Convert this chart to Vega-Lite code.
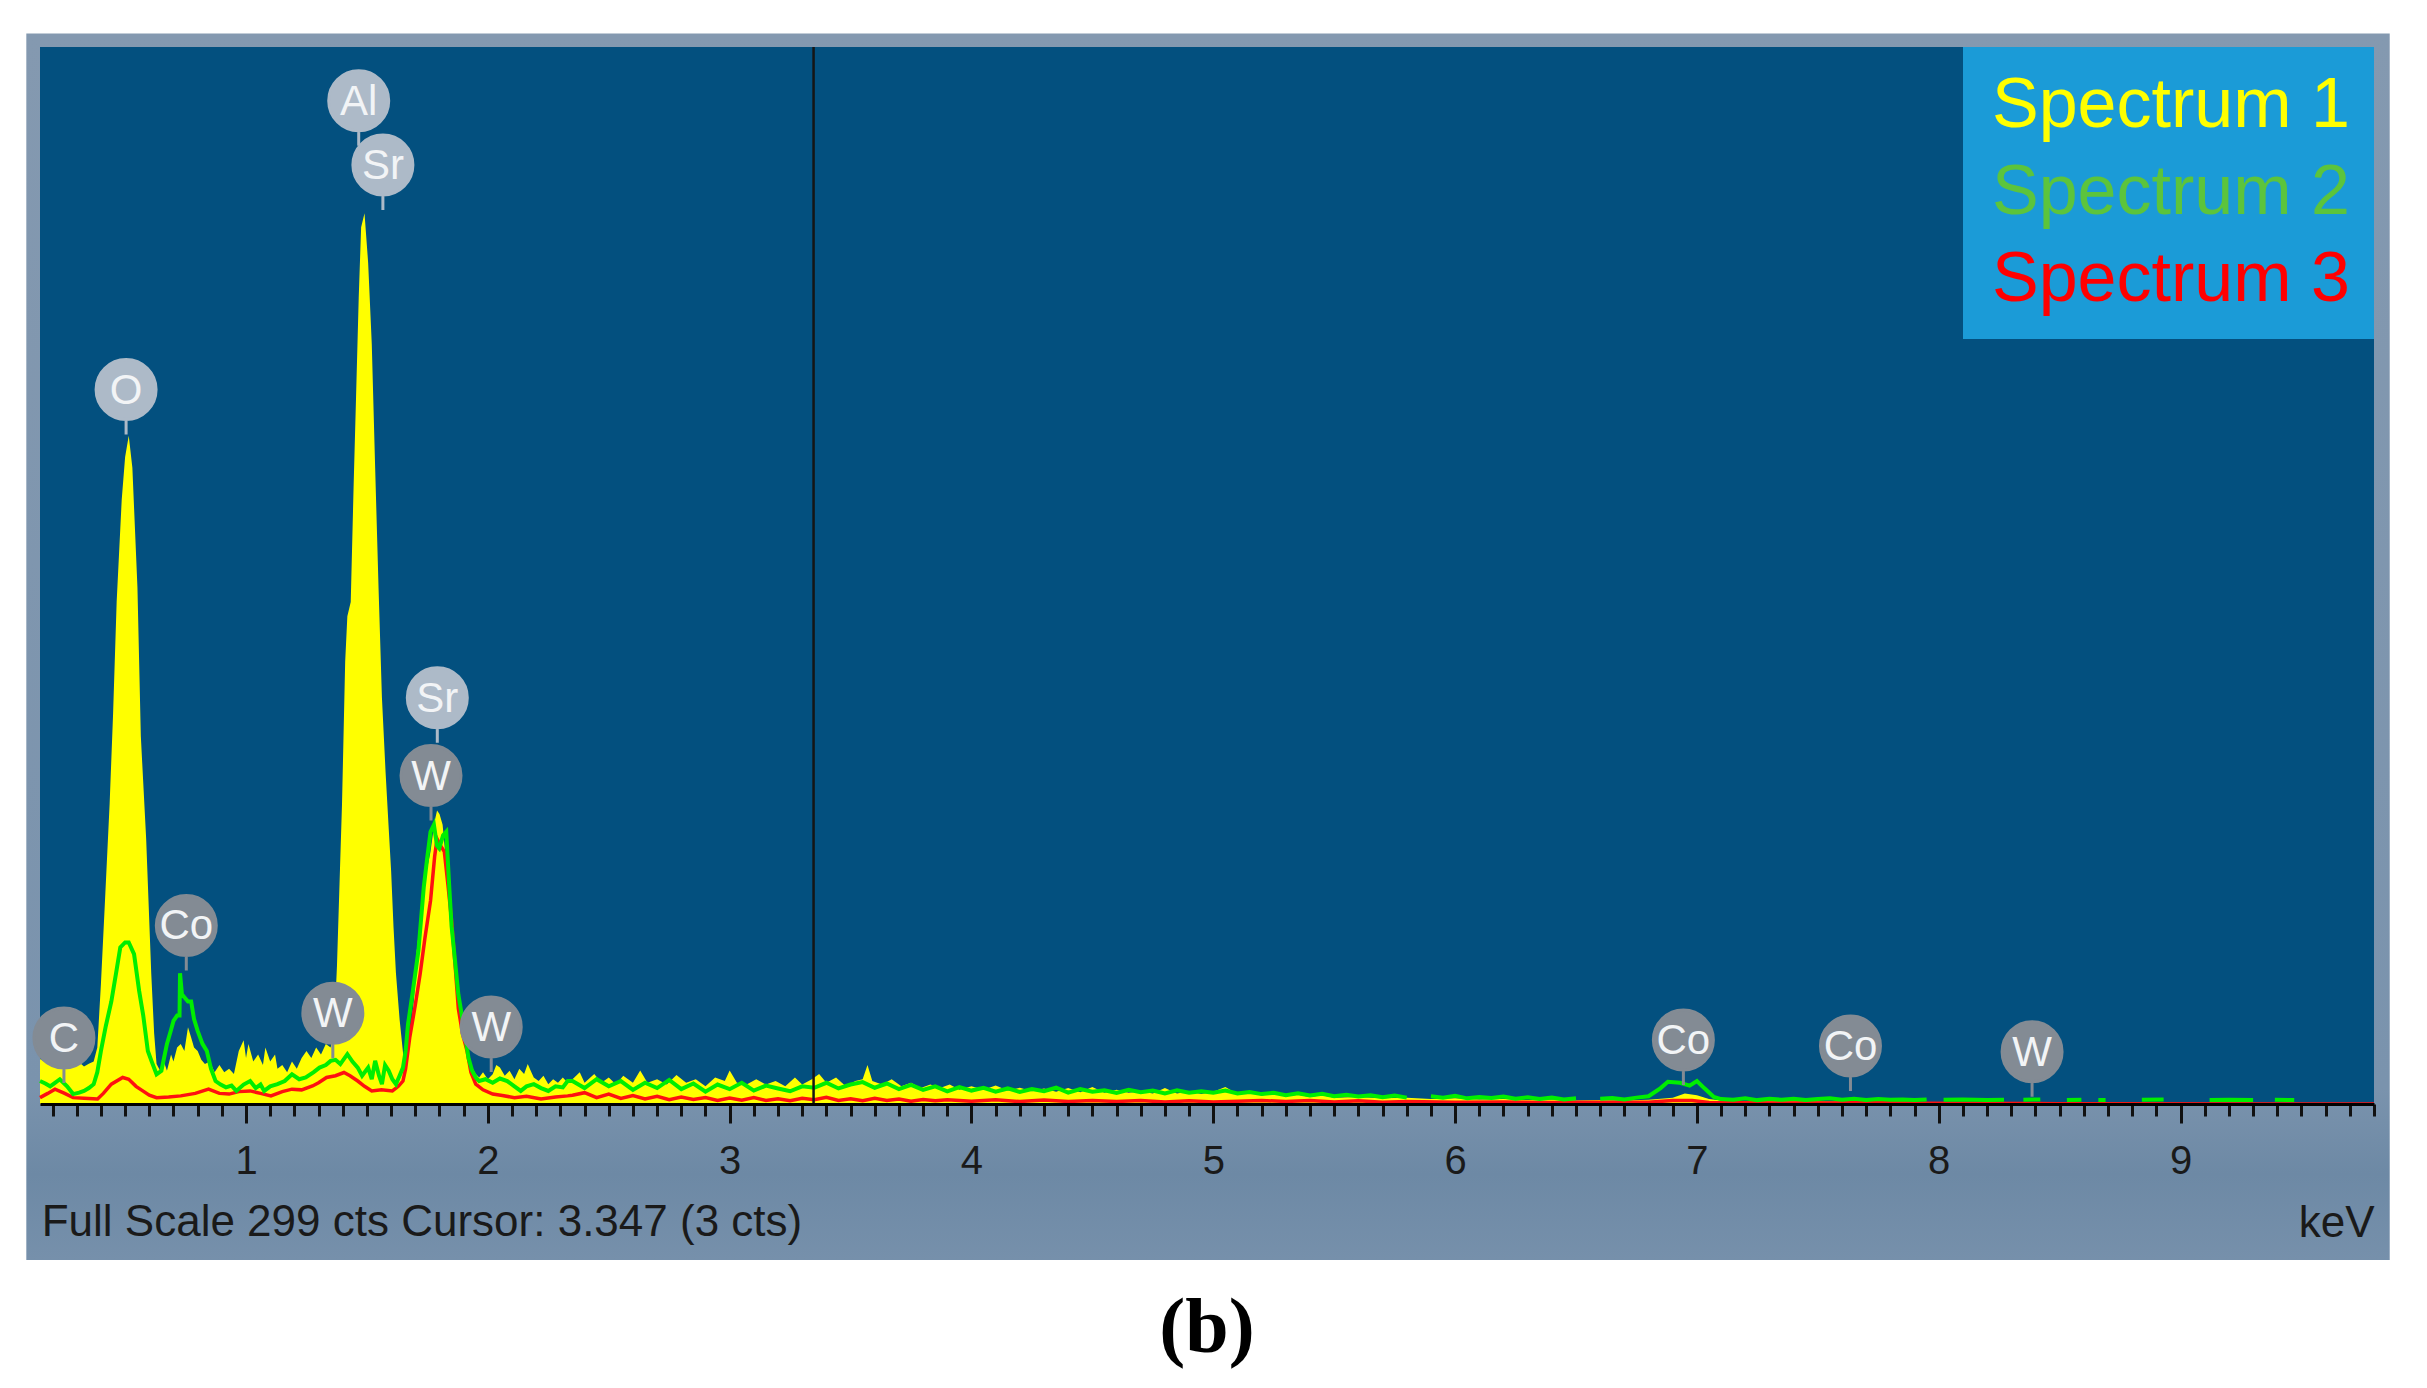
{
  "$schema": "https://vega.github.io/schema/vega-lite/v6.json",
  "width": 2334,
  "height": 1057,
  "autosize": {"type": "none"},
  "padding": {"left": 40, "top": 47, "right": 53, "bottom": 284},
  "background": "#ffffff",
  "title": {
    "text": "(b)",
    "orient": "bottom",
    "anchor": "middle",
    "font": "Liberation Serif",
    "fontSize": 78,
    "fontWeight": "bold",
    "color": "#000000",
    "offset": 30
  },
  "resolve": {"axis": {"x": "independent", "y": "independent"}},
  "datasets": {
    "spectra": [
      {"s": "Spectrum 1", "e": 0.148, "c": 12.7}, {"s": "Spectrum 1", "e": 0.17, "c": 11.8}, {"s": "Spectrum 1", "e": 0.19, "c": 13},
      {"s": "Spectrum 1", "e": 0.21, "c": 11.5}, {"s": "Spectrum 1", "e": 0.23, "c": 12.5}, {"s": "Spectrum 1", "e": 0.25, "c": 11.2},
      {"s": "Spectrum 1", "e": 0.27, "c": 12.4}, {"s": "Spectrum 1", "e": 0.29, "c": 11}, {"s": "Spectrum 1", "e": 0.31, "c": 11.8},
      {"s": "Spectrum 1", "e": 0.33, "c": 10.6}, {"s": "Spectrum 1", "e": 0.35, "c": 11.4}, {"s": "Spectrum 1", "e": 0.37, "c": 12},
      {"s": "Spectrum 1", "e": 0.385, "c": 16}, {"s": "Spectrum 1", "e": 0.4, "c": 34}, {"s": "Spectrum 1", "e": 0.415, "c": 55},
      {"s": "Spectrum 1", "e": 0.436, "c": 85}, {"s": "Spectrum 1", "e": 0.45, "c": 110}, {"s": "Spectrum 1", "e": 0.465, "c": 142},
      {"s": "Spectrum 1", "e": 0.486, "c": 171}, {"s": "Spectrum 1", "e": 0.5, "c": 183}, {"s": "Spectrum 1", "e": 0.515, "c": 189},
      {"s": "Spectrum 1", "e": 0.53, "c": 180}, {"s": "Spectrum 1", "e": 0.551, "c": 146}, {"s": "Spectrum 1", "e": 0.565, "c": 104},
      {"s": "Spectrum 1", "e": 0.587, "c": 75}, {"s": "Spectrum 1", "e": 0.608, "c": 37}, {"s": "Spectrum 1", "e": 0.62, "c": 20},
      {"s": "Spectrum 1", "e": 0.63, "c": 11.3}, {"s": "Spectrum 1", "e": 0.645, "c": 9.4}, {"s": "Spectrum 1", "e": 0.66, "c": 12},
      {"s": "Spectrum 1", "e": 0.673, "c": 9.4}, {"s": "Spectrum 1", "e": 0.69, "c": 14}, {"s": "Spectrum 1", "e": 0.7, "c": 12},
      {"s": "Spectrum 1", "e": 0.715, "c": 16}, {"s": "Spectrum 1", "e": 0.73, "c": 17}, {"s": "Spectrum 1", "e": 0.745, "c": 15},
      {"s": "Spectrum 1", "e": 0.76, "c": 21.7}, {"s": "Spectrum 1", "e": 0.773, "c": 18.8}, {"s": "Spectrum 1", "e": 0.785, "c": 16},
      {"s": "Spectrum 1", "e": 0.8, "c": 15}, {"s": "Spectrum 1", "e": 0.815, "c": 12.5}, {"s": "Spectrum 1", "e": 0.83, "c": 11.3},
      {"s": "Spectrum 1", "e": 0.85, "c": 12}, {"s": "Spectrum 1", "e": 0.87, "c": 9}, {"s": "Spectrum 1", "e": 0.89, "c": 11},
      {"s": "Spectrum 1", "e": 0.91, "c": 9}, {"s": "Spectrum 1", "e": 0.93, "c": 10}, {"s": "Spectrum 1", "e": 0.95, "c": 8.5},
      {"s": "Spectrum 1", "e": 0.97, "c": 15}, {"s": "Spectrum 1", "e": 0.99, "c": 18}, {"s": "Spectrum 1", "e": 1.0, "c": 13},
      {"s": "Spectrum 1", "e": 1.01, "c": 17}, {"s": "Spectrum 1", "e": 1.03, "c": 12}, {"s": "Spectrum 1", "e": 1.05, "c": 14},
      {"s": "Spectrum 1", "e": 1.07, "c": 11}, {"s": "Spectrum 1", "e": 1.08, "c": 16}, {"s": "Spectrum 1", "e": 1.1, "c": 12},
      {"s": "Spectrum 1", "e": 1.12, "c": 14}, {"s": "Spectrum 1", "e": 1.13, "c": 10}, {"s": "Spectrum 1", "e": 1.15, "c": 11},
      {"s": "Spectrum 1", "e": 1.17, "c": 9}, {"s": "Spectrum 1", "e": 1.19, "c": 12}, {"s": "Spectrum 1", "e": 1.21, "c": 10},
      {"s": "Spectrum 1", "e": 1.23, "c": 13}, {"s": "Spectrum 1", "e": 1.25, "c": 15}, {"s": "Spectrum 1", "e": 1.27, "c": 13},
      {"s": "Spectrum 1", "e": 1.29, "c": 16}, {"s": "Spectrum 1", "e": 1.31, "c": 14}, {"s": "Spectrum 1", "e": 1.33, "c": 17},
      {"s": "Spectrum 1", "e": 1.35, "c": 16}, {"s": "Spectrum 1", "e": 1.365, "c": 22}, {"s": "Spectrum 1", "e": 1.376, "c": 39},
      {"s": "Spectrum 1", "e": 1.397, "c": 85}, {"s": "Spectrum 1", "e": 1.41, "c": 125}, {"s": "Spectrum 1", "e": 1.419, "c": 138},
      {"s": "Spectrum 1", "e": 1.433, "c": 142}, {"s": "Spectrum 1", "e": 1.445, "c": 175}, {"s": "Spectrum 1", "e": 1.455, "c": 200},
      {"s": "Spectrum 1", "e": 1.466, "c": 228}, {"s": "Spectrum 1", "e": 1.476, "c": 248}, {"s": "Spectrum 1", "e": 1.49, "c": 252},
      {"s": "Spectrum 1", "e": 1.505, "c": 238}, {"s": "Spectrum 1", "e": 1.52, "c": 215}, {"s": "Spectrum 1", "e": 1.534, "c": 180},
      {"s": "Spectrum 1", "e": 1.548, "c": 146}, {"s": "Spectrum 1", "e": 1.562, "c": 115}, {"s": "Spectrum 1", "e": 1.577, "c": 94},
      {"s": "Spectrum 1", "e": 1.59, "c": 78}, {"s": "Spectrum 1", "e": 1.6, "c": 66}, {"s": "Spectrum 1", "e": 1.61, "c": 50},
      {"s": "Spectrum 1", "e": 1.62, "c": 37}, {"s": "Spectrum 1", "e": 1.635, "c": 24}, {"s": "Spectrum 1", "e": 1.65, "c": 14},
      {"s": "Spectrum 1", "e": 1.665, "c": 13}, {"s": "Spectrum 1", "e": 1.68, "c": 20}, {"s": "Spectrum 1", "e": 1.695, "c": 30},
      {"s": "Spectrum 1", "e": 1.706, "c": 43.4}, {"s": "Spectrum 1", "e": 1.72, "c": 52}, {"s": "Spectrum 1", "e": 1.735, "c": 62},
      {"s": "Spectrum 1", "e": 1.75, "c": 67}, {"s": "Spectrum 1", "e": 1.763, "c": 71.4}, {"s": "Spectrum 1", "e": 1.78, "c": 80},
      {"s": "Spectrum 1", "e": 1.79, "c": 83}, {"s": "Spectrum 1", "e": 1.8, "c": 82}, {"s": "Spectrum 1", "e": 1.813, "c": 79},
      {"s": "Spectrum 1", "e": 1.825, "c": 70}, {"s": "Spectrum 1", "e": 1.835, "c": 60}, {"s": "Spectrum 1", "e": 1.85, "c": 50},
      {"s": "Spectrum 1", "e": 1.864, "c": 41}, {"s": "Spectrum 1", "e": 1.875, "c": 33}, {"s": "Spectrum 1", "e": 1.885, "c": 27},
      {"s": "Spectrum 1", "e": 1.895, "c": 22}, {"s": "Spectrum 1", "e": 1.907, "c": 17.9}, {"s": "Spectrum 1", "e": 1.92, "c": 13},
      {"s": "Spectrum 1", "e": 1.935, "c": 10.3}, {"s": "Spectrum 1", "e": 1.95, "c": 8.5}, {"s": "Spectrum 1", "e": 1.964, "c": 7.5},
      {"s": "Spectrum 1", "e": 1.98, "c": 9}, {"s": "Spectrum 1", "e": 2.0, "c": 7}, {"s": "Spectrum 1", "e": 2.02, "c": 8.4},
      {"s": "Spectrum 1", "e": 2.035, "c": 11}, {"s": "Spectrum 1", "e": 2.05, "c": 10.3}, {"s": "Spectrum 1", "e": 2.07, "c": 8},
      {"s": "Spectrum 1", "e": 2.09, "c": 9.4}, {"s": "Spectrum 1", "e": 2.11, "c": 7}, {"s": "Spectrum 1", "e": 2.13, "c": 10},
      {"s": "Spectrum 1", "e": 2.15, "c": 8.5}, {"s": "Spectrum 1", "e": 2.165, "c": 11.3}, {"s": "Spectrum 1", "e": 2.18, "c": 9},
      {"s": "Spectrum 1", "e": 2.19, "c": 7.5}, {"s": "Spectrum 1", "e": 2.21, "c": 6.5}, {"s": "Spectrum 1", "e": 2.23, "c": 8},
      {"s": "Spectrum 1", "e": 2.25, "c": 5.6}, {"s": "Spectrum 1", "e": 2.27, "c": 7}, {"s": "Spectrum 1", "e": 2.29, "c": 6},
      {"s": "Spectrum 1", "e": 2.31, "c": 7.5}, {"s": "Spectrum 1", "e": 2.33, "c": 6}, {"s": "Spectrum 1", "e": 2.35, "c": 7},
      {"s": "Spectrum 1", "e": 2.38, "c": 9}, {"s": "Spectrum 1", "e": 2.4, "c": 6}, {"s": "Spectrum 1", "e": 2.44, "c": 8.5},
      {"s": "Spectrum 1", "e": 2.47, "c": 6}, {"s": "Spectrum 1", "e": 2.5, "c": 7.5}, {"s": "Spectrum 1", "e": 2.53, "c": 5.5},
      {"s": "Spectrum 1", "e": 2.56, "c": 8}, {"s": "Spectrum 1", "e": 2.6, "c": 6}, {"s": "Spectrum 1", "e": 2.63, "c": 9.5},
      {"s": "Spectrum 1", "e": 2.66, "c": 6}, {"s": "Spectrum 1", "e": 2.7, "c": 7}, {"s": "Spectrum 1", "e": 2.74, "c": 5.5},
      {"s": "Spectrum 1", "e": 2.78, "c": 8.2}, {"s": "Spectrum 1", "e": 2.82, "c": 6}, {"s": "Spectrum 1", "e": 2.86, "c": 7},
      {"s": "Spectrum 1", "e": 2.9, "c": 5}, {"s": "Spectrum 1", "e": 2.94, "c": 7.5}, {"s": "Spectrum 1", "e": 2.98, "c": 6.5},
      {"s": "Spectrum 1", "e": 3.0, "c": 9.5}, {"s": "Spectrum 1", "e": 3.03, "c": 6}, {"s": "Spectrum 1", "e": 3.07, "c": 5.5},
      {"s": "Spectrum 1", "e": 3.11, "c": 7}, {"s": "Spectrum 1", "e": 3.15, "c": 5.5}, {"s": "Spectrum 1", "e": 3.19, "c": 6.5},
      {"s": "Spectrum 1", "e": 3.23, "c": 5}, {"s": "Spectrum 1", "e": 3.27, "c": 7.5}, {"s": "Spectrum 1", "e": 3.3, "c": 5.5},
      {"s": "Spectrum 1", "e": 3.34, "c": 7}, {"s": "Spectrum 1", "e": 3.37, "c": 8.5}, {"s": "Spectrum 1", "e": 3.4, "c": 6},
      {"s": "Spectrum 1", "e": 3.44, "c": 7.5}, {"s": "Spectrum 1", "e": 3.48, "c": 5}, {"s": "Spectrum 1", "e": 3.52, "c": 6.5},
      {"s": "Spectrum 1", "e": 3.55, "c": 7}, {"s": "Spectrum 1", "e": 3.57, "c": 11}, {"s": "Spectrum 1", "e": 3.59, "c": 6.5},
      {"s": "Spectrum 1", "e": 3.63, "c": 5.5}, {"s": "Spectrum 1", "e": 3.67, "c": 7}, {"s": "Spectrum 1", "e": 3.71, "c": 5},
      {"s": "Spectrum 1", "e": 3.75, "c": 6}, {"s": "Spectrum 1", "e": 3.79, "c": 4.5}, {"s": "Spectrum 1", "e": 3.83, "c": 5.5},
      {"s": "Spectrum 1", "e": 3.87, "c": 4.5}, {"s": "Spectrum 1", "e": 3.91, "c": 5.5}, {"s": "Spectrum 1", "e": 3.95, "c": 4},
      {"s": "Spectrum 1", "e": 4.0, "c": 5}, {"s": "Spectrum 1", "e": 4.05, "c": 4}, {"s": "Spectrum 1", "e": 4.1, "c": 5.2},
      {"s": "Spectrum 1", "e": 4.15, "c": 3.8}, {"s": "Spectrum 1", "e": 4.2, "c": 4.6}, {"s": "Spectrum 1", "e": 4.25, "c": 3.6},
      {"s": "Spectrum 1", "e": 4.3, "c": 4.4}, {"s": "Spectrum 1", "e": 4.35, "c": 3.5}, {"s": "Spectrum 1", "e": 4.4, "c": 4.5},
      {"s": "Spectrum 1", "e": 4.45, "c": 3.3}, {"s": "Spectrum 1", "e": 4.5, "c": 4.8}, {"s": "Spectrum 1", "e": 4.55, "c": 3.2},
      {"s": "Spectrum 1", "e": 4.6, "c": 4}, {"s": "Spectrum 1", "e": 4.65, "c": 3.2}, {"s": "Spectrum 1", "e": 4.7, "c": 3.6},
      {"s": "Spectrum 1", "e": 4.75, "c": 3}, {"s": "Spectrum 1", "e": 4.8, "c": 4.5}, {"s": "Spectrum 1", "e": 4.85, "c": 3},
      {"s": "Spectrum 1", "e": 4.9, "c": 3.6}, {"s": "Spectrum 1", "e": 4.95, "c": 2.8}, {"s": "Spectrum 1", "e": 5.0, "c": 3.5},
      {"s": "Spectrum 1", "e": 5.05, "c": 4.8}, {"s": "Spectrum 1", "e": 5.1, "c": 2.8}, {"s": "Spectrum 1", "e": 5.15, "c": 3.2},
      {"s": "Spectrum 1", "e": 5.2, "c": 2.4}, {"s": "Spectrum 1", "e": 5.25, "c": 3}, {"s": "Spectrum 1", "e": 5.3, "c": 2.2},
      {"s": "Spectrum 1", "e": 5.35, "c": 2.6}, {"s": "Spectrum 1", "e": 5.4, "c": 2}, {"s": "Spectrum 1", "e": 5.45, "c": 2.5},
      {"s": "Spectrum 1", "e": 5.5, "c": 1.8}, {"s": "Spectrum 1", "e": 5.6, "c": 2}, {"s": "Spectrum 1", "e": 5.7, "c": 1.6},
      {"s": "Spectrum 1", "e": 5.8, "c": 1.8}, {"s": "Spectrum 1", "e": 5.9, "c": 1.4}, {"s": "Spectrum 1", "e": 6.0, "c": 1.6},
      {"s": "Spectrum 1", "e": 6.1, "c": 1.3}, {"s": "Spectrum 1", "e": 6.2, "c": 1.4}, {"s": "Spectrum 1", "e": 6.3, "c": 1.1},
      {"s": "Spectrum 1", "e": 6.4, "c": 1.3}, {"s": "Spectrum 1", "e": 6.5, "c": 1}, {"s": "Spectrum 1", "e": 6.6, "c": 1.1},
      {"s": "Spectrum 1", "e": 6.7, "c": 1}, {"s": "Spectrum 1", "e": 6.8, "c": 1.2}, {"s": "Spectrum 1", "e": 6.9, "c": 1.8},
      {"s": "Spectrum 1", "e": 6.95, "c": 3}, {"s": "Spectrum 1", "e": 7.0, "c": 2.5}, {"s": "Spectrum 1", "e": 7.05, "c": 1.4},
      {"s": "Spectrum 1", "e": 7.1, "c": 1}, {"s": "Spectrum 1", "e": 7.2, "c": 0.8}, {"s": "Spectrum 1", "e": 7.4, "c": 0.8},
      {"s": "Spectrum 1", "e": 7.6, "c": 0.7}, {"s": "Spectrum 1", "e": 7.8, "c": 0.7}, {"s": "Spectrum 1", "e": 8.0, "c": 0.5},
      {"s": "Spectrum 1", "e": 8.5, "c": 0.4}, {"s": "Spectrum 1", "e": 9.0, "c": 0.3}, {"s": "Spectrum 1", "e": 9.8, "c": 0.2},

      {"s": "Spectrum 2", "e": 0.148, "c": 6.5}, {"s": "Spectrum 2", "e": 0.17, "c": 5.8}, {"s": "Spectrum 2", "e": 0.19, "c": 5},
      {"s": "Spectrum 2", "e": 0.21, "c": 6}, {"s": "Spectrum 2", "e": 0.23, "c": 7}, {"s": "Spectrum 2", "e": 0.26, "c": 5},
      {"s": "Spectrum 2", "e": 0.285, "c": 2.8}, {"s": "Spectrum 2", "e": 0.31, "c": 3.2}, {"s": "Spectrum 2", "e": 0.33, "c": 3.7},
      {"s": "Spectrum 2", "e": 0.35, "c": 4.5}, {"s": "Spectrum 2", "e": 0.37, "c": 5.6}, {"s": "Spectrum 2", "e": 0.385, "c": 9},
      {"s": "Spectrum 2", "e": 0.4, "c": 15}, {"s": "Spectrum 2", "e": 0.42, "c": 22}, {"s": "Spectrum 2", "e": 0.443, "c": 29},
      {"s": "Spectrum 2", "e": 0.465, "c": 38}, {"s": "Spectrum 2", "e": 0.48, "c": 44.3}, {"s": "Spectrum 2", "e": 0.5, "c": 45.7},
      {"s": "Spectrum 2", "e": 0.515, "c": 45.7}, {"s": "Spectrum 2", "e": 0.537, "c": 42.4}, {"s": "Spectrum 2", "e": 0.558, "c": 32},
      {"s": "Spectrum 2", "e": 0.575, "c": 25}, {"s": "Spectrum 2", "e": 0.594, "c": 15}, {"s": "Spectrum 2", "e": 0.61, "c": 12},
      {"s": "Spectrum 2", "e": 0.63, "c": 8.4}, {"s": "Spectrum 2", "e": 0.65, "c": 9.4}, {"s": "Spectrum 2", "e": 0.673, "c": 17},
      {"s": "Spectrum 2", "e": 0.69, "c": 21}, {"s": "Spectrum 2", "e": 0.7, "c": 23.5}, {"s": "Spectrum 2", "e": 0.715, "c": 25},
      {"s": "Spectrum 2", "e": 0.725, "c": 25}, {"s": "Spectrum 2", "e": 0.727, "c": 37}, {"s": "Spectrum 2", "e": 0.735, "c": 31},
      {"s": "Spectrum 2", "e": 0.745, "c": 30.2}, {"s": "Spectrum 2", "e": 0.76, "c": 29}, {"s": "Spectrum 2", "e": 0.773, "c": 29},
      {"s": "Spectrum 2", "e": 0.785, "c": 24}, {"s": "Spectrum 2", "e": 0.8, "c": 20.7}, {"s": "Spectrum 2", "e": 0.82, "c": 17},
      {"s": "Spectrum 2", "e": 0.838, "c": 15}, {"s": "Spectrum 2", "e": 0.855, "c": 10}, {"s": "Spectrum 2", "e": 0.874, "c": 6.5},
      {"s": "Spectrum 2", "e": 0.895, "c": 5.5}, {"s": "Spectrum 2", "e": 0.917, "c": 4.7}, {"s": "Spectrum 2", "e": 0.94, "c": 5.2},
      {"s": "Spectrum 2", "e": 0.96, "c": 3.7}, {"s": "Spectrum 2", "e": 0.99, "c": 5.5}, {"s": "Spectrum 2", "e": 1.017, "c": 6.5},
      {"s": "Spectrum 2", "e": 1.04, "c": 4.5}, {"s": "Spectrum 2", "e": 1.06, "c": 5.5}, {"s": "Spectrum 2", "e": 1.075, "c": 3.7},
      {"s": "Spectrum 2", "e": 1.1, "c": 5}, {"s": "Spectrum 2", "e": 1.13, "c": 5.6}, {"s": "Spectrum 2", "e": 1.16, "c": 6.5},
      {"s": "Spectrum 2", "e": 1.19, "c": 8.4}, {"s": "Spectrum 2", "e": 1.22, "c": 7}, {"s": "Spectrum 2", "e": 1.247, "c": 7.5},
      {"s": "Spectrum 2", "e": 1.28, "c": 9}, {"s": "Spectrum 2", "e": 1.304, "c": 10.3}, {"s": "Spectrum 2", "e": 1.33, "c": 11},
      {"s": "Spectrum 2", "e": 1.35, "c": 12.2}, {"s": "Spectrum 2", "e": 1.37, "c": 12.5}, {"s": "Spectrum 2", "e": 1.39, "c": 11.3},
      {"s": "Spectrum 2", "e": 1.419, "c": 14.1}, {"s": "Spectrum 2", "e": 1.44, "c": 12}, {"s": "Spectrum 2", "e": 1.462, "c": 10.3},
      {"s": "Spectrum 2", "e": 1.48, "c": 8}, {"s": "Spectrum 2", "e": 1.505, "c": 10.3}, {"s": "Spectrum 2", "e": 1.52, "c": 7},
      {"s": "Spectrum 2", "e": 1.534, "c": 12.2}, {"s": "Spectrum 2", "e": 1.55, "c": 8}, {"s": "Spectrum 2", "e": 1.562, "c": 5.6},
      {"s": "Spectrum 2", "e": 1.575, "c": 11}, {"s": "Spectrum 2", "e": 1.59, "c": 9.4}, {"s": "Spectrum 2", "e": 1.605, "c": 7},
      {"s": "Spectrum 2", "e": 1.62, "c": 5.6}, {"s": "Spectrum 2", "e": 1.635, "c": 8}, {"s": "Spectrum 2", "e": 1.649, "c": 10.3},
      {"s": "Spectrum 2", "e": 1.66, "c": 15}, {"s": "Spectrum 2", "e": 1.67, "c": 22.6}, {"s": "Spectrum 2", "e": 1.69, "c": 32},
      {"s": "Spectrum 2", "e": 1.713, "c": 43.4}, {"s": "Spectrum 2", "e": 1.735, "c": 61.3}, {"s": "Spectrum 2", "e": 1.75, "c": 70},
      {"s": "Spectrum 2", "e": 1.763, "c": 77}, {"s": "Spectrum 2", "e": 1.777, "c": 79}, {"s": "Spectrum 2", "e": 1.79, "c": 73},
      {"s": "Spectrum 2", "e": 1.799, "c": 72.3}, {"s": "Spectrum 2", "e": 1.815, "c": 76}, {"s": "Spectrum 2", "e": 1.828, "c": 77},
      {"s": "Spectrum 2", "e": 1.84, "c": 62}, {"s": "Spectrum 2", "e": 1.85, "c": 50.3}, {"s": "Spectrum 2", "e": 1.865, "c": 40},
      {"s": "Spectrum 2", "e": 1.878, "c": 31}, {"s": "Spectrum 2", "e": 1.895, "c": 24}, {"s": "Spectrum 2", "e": 1.907, "c": 18.8},
      {"s": "Spectrum 2", "e": 1.92, "c": 13}, {"s": "Spectrum 2", "e": 1.935, "c": 9.4}, {"s": "Spectrum 2", "e": 1.95, "c": 7.5},
      {"s": "Spectrum 2", "e": 1.964, "c": 6.5}, {"s": "Spectrum 2", "e": 1.99, "c": 7}, {"s": "Spectrum 2", "e": 2.02, "c": 6},
      {"s": "Spectrum 2", "e": 2.05, "c": 7.2}, {"s": "Spectrum 2", "e": 2.08, "c": 6.5}, {"s": "Spectrum 2", "e": 2.11, "c": 5},
      {"s": "Spectrum 2", "e": 2.136, "c": 3.7}, {"s": "Spectrum 2", "e": 2.16, "c": 5}, {"s": "Spectrum 2", "e": 2.19, "c": 5.6},
      {"s": "Spectrum 2", "e": 2.22, "c": 4.5}, {"s": "Spectrum 2", "e": 2.25, "c": 3.7}, {"s": "Spectrum 2", "e": 2.28, "c": 5},
      {"s": "Spectrum 2", "e": 2.31, "c": 4.7}, {"s": "Spectrum 2", "e": 2.33, "c": 6.5}, {"s": "Spectrum 2", "e": 2.35, "c": 6.5},
      {"s": "Spectrum 2", "e": 2.4, "c": 4.5}, {"s": "Spectrum 2", "e": 2.45, "c": 7}, {"s": "Spectrum 2", "e": 2.5, "c": 5},
      {"s": "Spectrum 2", "e": 2.55, "c": 6.5}, {"s": "Spectrum 2", "e": 2.6, "c": 4}, {"s": "Spectrum 2", "e": 2.65, "c": 6},
      {"s": "Spectrum 2", "e": 2.7, "c": 4.5}, {"s": "Spectrum 2", "e": 2.75, "c": 6.8}, {"s": "Spectrum 2", "e": 2.8, "c": 4.2},
      {"s": "Spectrum 2", "e": 2.85, "c": 5.8}, {"s": "Spectrum 2", "e": 2.9, "c": 3.5}, {"s": "Spectrum 2", "e": 2.95, "c": 5.5},
      {"s": "Spectrum 2", "e": 3.0, "c": 4.2}, {"s": "Spectrum 2", "e": 3.05, "c": 6}, {"s": "Spectrum 2", "e": 3.1, "c": 3.8},
      {"s": "Spectrum 2", "e": 3.15, "c": 5.2}, {"s": "Spectrum 2", "e": 3.2, "c": 4.4}, {"s": "Spectrum 2", "e": 3.25, "c": 3.6},
      {"s": "Spectrum 2", "e": 3.3, "c": 5}, {"s": "Spectrum 2", "e": 3.35, "c": 4.6}, {"s": "Spectrum 2", "e": 3.4, "c": 6},
      {"s": "Spectrum 2", "e": 3.45, "c": 4.4}, {"s": "Spectrum 2", "e": 3.5, "c": 5.5}, {"s": "Spectrum 2", "e": 3.55, "c": 6.2},
      {"s": "Spectrum 2", "e": 3.6, "c": 4.6}, {"s": "Spectrum 2", "e": 3.65, "c": 5.8}, {"s": "Spectrum 2", "e": 3.7, "c": 4.2},
      {"s": "Spectrum 2", "e": 3.75, "c": 5.4}, {"s": "Spectrum 2", "e": 3.8, "c": 4}, {"s": "Spectrum 2", "e": 3.85, "c": 5},
      {"s": "Spectrum 2", "e": 3.9, "c": 3.6}, {"s": "Spectrum 2", "e": 3.95, "c": 4.8}, {"s": "Spectrum 2", "e": 4.0, "c": 3.8},
      {"s": "Spectrum 2", "e": 4.05, "c": 4.6}, {"s": "Spectrum 2", "e": 4.1, "c": 3.5}, {"s": "Spectrum 2", "e": 4.15, "c": 4.4},
      {"s": "Spectrum 2", "e": 4.2, "c": 3.4}, {"s": "Spectrum 2", "e": 4.25, "c": 4.2}, {"s": "Spectrum 2", "e": 4.3, "c": 3.6},
      {"s": "Spectrum 2", "e": 4.35, "c": 4.6}, {"s": "Spectrum 2", "e": 4.4, "c": 3.2}, {"s": "Spectrum 2", "e": 4.45, "c": 4.2},
      {"s": "Spectrum 2", "e": 4.5, "c": 3.5}, {"s": "Spectrum 2", "e": 4.55, "c": 3.9}, {"s": "Spectrum 2", "e": 4.6, "c": 3.1},
      {"s": "Spectrum 2", "e": 4.65, "c": 4}, {"s": "Spectrum 2", "e": 4.7, "c": 3.3}, {"s": "Spectrum 2", "e": 4.75, "c": 3.8},
      {"s": "Spectrum 2", "e": 4.8, "c": 3}, {"s": "Spectrum 2", "e": 4.85, "c": 3.9}, {"s": "Spectrum 2", "e": 4.9, "c": 3.2},
      {"s": "Spectrum 2", "e": 4.95, "c": 3.6}, {"s": "Spectrum 2", "e": 5.0, "c": 3.2}, {"s": "Spectrum 2", "e": 5.05, "c": 3.8},
      {"s": "Spectrum 2", "e": 5.1, "c": 3}, {"s": "Spectrum 2", "e": 5.15, "c": 3.4}, {"s": "Spectrum 2", "e": 5.2, "c": 2.8},
      {"s": "Spectrum 2", "e": 5.25, "c": 3.2}, {"s": "Spectrum 2", "e": 5.3, "c": 2.5}, {"s": "Spectrum 2", "e": 5.35, "c": 3},
      {"s": "Spectrum 2", "e": 5.4, "c": 2.4}, {"s": "Spectrum 2", "e": 5.45, "c": 2.9}, {"s": "Spectrum 2", "e": 5.5, "c": 2.2},
      {"s": "Spectrum 2", "e": 5.55, "c": 2.6}, {"s": "Spectrum 2", "e": 5.6, "c": 2.1}, {"s": "Spectrum 2", "e": 5.65, "c": 2.5},
      {"s": "Spectrum 2", "e": 5.7, "c": 1.9}, {"s": "Spectrum 2", "e": 5.75, "c": 2.4}, {"s": "Spectrum 2", "e": 5.8, "c": 1.8},
      {"s": "Spectrum 2", "e": 5.85, "c": null}, {"s": "Spectrum 2", "e": 5.9, "c": 2.2}, {"s": "Spectrum 2", "e": 5.95, "c": 1.8},
      {"s": "Spectrum 2", "e": 6.0, "c": 2.3}, {"s": "Spectrum 2", "e": 6.05, "c": 1.6}, {"s": "Spectrum 2", "e": 6.1, "c": 2},
      {"s": "Spectrum 2", "e": 6.15, "c": 1.7}, {"s": "Spectrum 2", "e": 6.2, "c": 2.1}, {"s": "Spectrum 2", "e": 6.25, "c": 1.5},
      {"s": "Spectrum 2", "e": 6.3, "c": 1.9}, {"s": "Spectrum 2", "e": 6.35, "c": 1.4}, {"s": "Spectrum 2", "e": 6.4, "c": 1.8},
      {"s": "Spectrum 2", "e": 6.45, "c": 1.3}, {"s": "Spectrum 2", "e": 6.5, "c": 1.6}, {"s": "Spectrum 2", "e": 6.55, "c": null},
      {"s": "Spectrum 2", "e": 6.6, "c": 1.5}, {"s": "Spectrum 2", "e": 6.65, "c": 1.7}, {"s": "Spectrum 2", "e": 6.7, "c": 1.3},
      {"s": "Spectrum 2", "e": 6.75, "c": 1.8}, {"s": "Spectrum 2", "e": 6.8, "c": 2.2}, {"s": "Spectrum 2", "e": 6.85, "c": 4.5},
      {"s": "Spectrum 2", "e": 6.88, "c": 6.3}, {"s": "Spectrum 2", "e": 6.93, "c": 6}, {"s": "Spectrum 2", "e": 6.97, "c": 5.2},
      {"s": "Spectrum 2", "e": 7.0, "c": 6.5}, {"s": "Spectrum 2", "e": 7.03, "c": 4.5}, {"s": "Spectrum 2", "e": 7.07, "c": 2},
      {"s": "Spectrum 2", "e": 7.1, "c": 1.4}, {"s": "Spectrum 2", "e": 7.15, "c": 1.2}, {"s": "Spectrum 2", "e": 7.2, "c": 1.6},
      {"s": "Spectrum 2", "e": 7.25, "c": 1.1}, {"s": "Spectrum 2", "e": 7.3, "c": 1.5}, {"s": "Spectrum 2", "e": 7.35, "c": 1.2},
      {"s": "Spectrum 2", "e": 7.4, "c": 1.5}, {"s": "Spectrum 2", "e": 7.45, "c": 1.1}, {"s": "Spectrum 2", "e": 7.5, "c": 1.4},
      {"s": "Spectrum 2", "e": 7.55, "c": 1.6}, {"s": "Spectrum 2", "e": 7.6, "c": 1.2}, {"s": "Spectrum 2", "e": 7.65, "c": 1.5},
      {"s": "Spectrum 2", "e": 7.7, "c": 1.1}, {"s": "Spectrum 2", "e": 7.75, "c": 1.4}, {"s": "Spectrum 2", "e": 7.8, "c": 1.2},
      {"s": "Spectrum 2", "e": 7.85, "c": 1.3}, {"s": "Spectrum 2", "e": 7.9, "c": 1.1}, {"s": "Spectrum 2", "e": 7.95, "c": 1.3},
      {"s": "Spectrum 2", "e": 7.98, "c": null}, {"s": "Spectrum 2", "e": 8.02, "c": 1.2}, {"s": "Spectrum 2", "e": 8.1, "c": 1.3},
      {"s": "Spectrum 2", "e": 8.2, "c": 1.1}, {"s": "Spectrum 2", "e": 8.27, "c": 1.2}, {"s": "Spectrum 2", "e": 8.3, "c": null},
      {"s": "Spectrum 2", "e": 8.35, "c": 1.2}, {"s": "Spectrum 2", "e": 8.42, "c": 1.3}, {"s": "Spectrum 2", "e": 8.45, "c": null},
      {"s": "Spectrum 2", "e": 8.53, "c": 1.1}, {"s": "Spectrum 2", "e": 8.59, "c": 1.2}, {"s": "Spectrum 2", "e": 8.62, "c": null},
      {"s": "Spectrum 2", "e": 8.66, "c": 1.1}, {"s": "Spectrum 2", "e": 8.69, "c": 1.1}, {"s": "Spectrum 2", "e": 8.72, "c": null},
      {"s": "Spectrum 2", "e": 8.84, "c": 1.2}, {"s": "Spectrum 2", "e": 8.93, "c": 1.3}, {"s": "Spectrum 2", "e": 8.96, "c": null},
      {"s": "Spectrum 2", "e": 9.12, "c": 1.1}, {"s": "Spectrum 2", "e": 9.2, "c": 1.2}, {"s": "Spectrum 2", "e": 9.3, "c": 1.1},
      {"s": "Spectrum 2", "e": 9.33, "c": null}, {"s": "Spectrum 2", "e": 9.39, "c": 1.2}, {"s": "Spectrum 2", "e": 9.47, "c": 1.1},

      {"s": "Spectrum 3", "e": 0.148, "c": 1.8}, {"s": "Spectrum 3", "e": 0.18, "c": 3}, {"s": "Spectrum 3", "e": 0.21, "c": 4.2},
      {"s": "Spectrum 3", "e": 0.25, "c": 3}, {"s": "Spectrum 3", "e": 0.285, "c": 1.8}, {"s": "Spectrum 3", "e": 0.33, "c": 1.6},
      {"s": "Spectrum 3", "e": 0.386, "c": 1.4}, {"s": "Spectrum 3", "e": 0.41, "c": 3}, {"s": "Spectrum 3", "e": 0.443, "c": 5.6},
      {"s": "Spectrum 3", "e": 0.49, "c": 7.5}, {"s": "Spectrum 3", "e": 0.515, "c": 7}, {"s": "Spectrum 3", "e": 0.545, "c": 5},
      {"s": "Spectrum 3", "e": 0.573, "c": 3.7}, {"s": "Spectrum 3", "e": 0.6, "c": 2.5}, {"s": "Spectrum 3", "e": 0.63, "c": 1.8},
      {"s": "Spectrum 3", "e": 0.68, "c": 2}, {"s": "Spectrum 3", "e": 0.73, "c": 2.3}, {"s": "Spectrum 3", "e": 0.79, "c": 3},
      {"s": "Spectrum 3", "e": 0.845, "c": 4.2}, {"s": "Spectrum 3", "e": 0.89, "c": 3}, {"s": "Spectrum 3", "e": 0.93, "c": 2.8},
      {"s": "Spectrum 3", "e": 0.97, "c": 3.5}, {"s": "Spectrum 3", "e": 1.017, "c": 3.7}, {"s": "Spectrum 3", "e": 1.06, "c": 3},
      {"s": "Spectrum 3", "e": 1.103, "c": 2.3}, {"s": "Spectrum 3", "e": 1.15, "c": 3.5}, {"s": "Spectrum 3", "e": 1.19, "c": 4.2},
      {"s": "Spectrum 3", "e": 1.23, "c": 4}, {"s": "Spectrum 3", "e": 1.275, "c": 5.1}, {"s": "Spectrum 3", "e": 1.3, "c": 6},
      {"s": "Spectrum 3", "e": 1.333, "c": 7.5}, {"s": "Spectrum 3", "e": 1.37, "c": 8}, {"s": "Spectrum 3", "e": 1.405, "c": 8.9},
      {"s": "Spectrum 3", "e": 1.43, "c": 8}, {"s": "Spectrum 3", "e": 1.462, "c": 6.5}, {"s": "Spectrum 3", "e": 1.49, "c": 5},
      {"s": "Spectrum 3", "e": 1.52, "c": 3.7}, {"s": "Spectrum 3", "e": 1.56, "c": 4}, {"s": "Spectrum 3", "e": 1.605, "c": 3.7},
      {"s": "Spectrum 3", "e": 1.63, "c": 5}, {"s": "Spectrum 3", "e": 1.649, "c": 6.5}, {"s": "Spectrum 3", "e": 1.66, "c": 10},
      {"s": "Spectrum 3", "e": 1.677, "c": 18.8}, {"s": "Spectrum 3", "e": 1.7, "c": 28}, {"s": "Spectrum 3", "e": 1.72, "c": 36.8},
      {"s": "Spectrum 3", "e": 1.74, "c": 47}, {"s": "Spectrum 3", "e": 1.763, "c": 57.5}, {"s": "Spectrum 3", "e": 1.78, "c": 70},
      {"s": "Spectrum 3", "e": 1.79, "c": 75}, {"s": "Spectrum 3", "e": 1.805, "c": 73}, {"s": "Spectrum 3", "e": 1.82, "c": 71.4},
      {"s": "Spectrum 3", "e": 1.835, "c": 62}, {"s": "Spectrum 3", "e": 1.85, "c": 52}, {"s": "Spectrum 3", "e": 1.865, "c": 39},
      {"s": "Spectrum 3", "e": 1.878, "c": 27}, {"s": "Spectrum 3", "e": 1.895, "c": 20}, {"s": "Spectrum 3", "e": 1.914, "c": 15},
      {"s": "Spectrum 3", "e": 1.93, "c": 9}, {"s": "Spectrum 3", "e": 1.95, "c": 5.6}, {"s": "Spectrum 3", "e": 1.98, "c": 4},
      {"s": "Spectrum 3", "e": 2.02, "c": 2.8}, {"s": "Spectrum 3", "e": 2.06, "c": 2.4}, {"s": "Spectrum 3", "e": 2.11, "c": 1.8},
      {"s": "Spectrum 3", "e": 2.16, "c": 2.2}, {"s": "Spectrum 3", "e": 2.22, "c": 1.4}, {"s": "Spectrum 3", "e": 2.28, "c": 2},
      {"s": "Spectrum 3", "e": 2.33, "c": 2.3}, {"s": "Spectrum 3", "e": 2.35, "c": 2.5}, {"s": "Spectrum 3", "e": 2.4, "c": 3.2},
      {"s": "Spectrum 3", "e": 2.45, "c": 1.8}, {"s": "Spectrum 3", "e": 2.5, "c": 2.8}, {"s": "Spectrum 3", "e": 2.55, "c": 1.6},
      {"s": "Spectrum 3", "e": 2.6, "c": 2.4}, {"s": "Spectrum 3", "e": 2.65, "c": 1.4}, {"s": "Spectrum 3", "e": 2.7, "c": 2.2},
      {"s": "Spectrum 3", "e": 2.75, "c": 1.2}, {"s": "Spectrum 3", "e": 2.8, "c": 2}, {"s": "Spectrum 3", "e": 2.85, "c": 1.3},
      {"s": "Spectrum 3", "e": 2.9, "c": 1.8}, {"s": "Spectrum 3", "e": 2.95, "c": 1}, {"s": "Spectrum 3", "e": 3.0, "c": 1.7},
      {"s": "Spectrum 3", "e": 3.05, "c": 1.1}, {"s": "Spectrum 3", "e": 3.1, "c": 1.8}, {"s": "Spectrum 3", "e": 3.15, "c": 1},
      {"s": "Spectrum 3", "e": 3.2, "c": 1.5}, {"s": "Spectrum 3", "e": 3.25, "c": 0.9}, {"s": "Spectrum 3", "e": 3.3, "c": 1.6},
      {"s": "Spectrum 3", "e": 3.35, "c": 1.2}, {"s": "Spectrum 3", "e": 3.4, "c": 1.9}, {"s": "Spectrum 3", "e": 3.45, "c": 1},
      {"s": "Spectrum 3", "e": 3.5, "c": 1.5}, {"s": "Spectrum 3", "e": 3.55, "c": 0.9}, {"s": "Spectrum 3", "e": 3.6, "c": 1.6},
      {"s": "Spectrum 3", "e": 3.65, "c": 1}, {"s": "Spectrum 3", "e": 3.7, "c": 1.4}, {"s": "Spectrum 3", "e": 3.75, "c": 0.8},
      {"s": "Spectrum 3", "e": 3.8, "c": 1.3}, {"s": "Spectrum 3", "e": 3.85, "c": 0.9}, {"s": "Spectrum 3", "e": 3.9, "c": 1.2},
      {"s": "Spectrum 3", "e": 4.0, "c": 0.8}, {"s": "Spectrum 3", "e": 4.1, "c": 1.2}, {"s": "Spectrum 3", "e": 4.2, "c": 0.7},
      {"s": "Spectrum 3", "e": 4.3, "c": 1.1}, {"s": "Spectrum 3", "e": 4.4, "c": 0.7}, {"s": "Spectrum 3", "e": 4.5, "c": 1},
      {"s": "Spectrum 3", "e": 4.6, "c": 0.7}, {"s": "Spectrum 3", "e": 4.7, "c": 1}, {"s": "Spectrum 3", "e": 4.8, "c": 0.6},
      {"s": "Spectrum 3", "e": 4.9, "c": 0.9}, {"s": "Spectrum 3", "e": 5.0, "c": 0.6}, {"s": "Spectrum 3", "e": 5.1, "c": 0.8},
      {"s": "Spectrum 3", "e": 5.2, "c": 1}, {"s": "Spectrum 3", "e": 5.3, "c": 0.7}, {"s": "Spectrum 3", "e": 5.4, "c": 1},
      {"s": "Spectrum 3", "e": 5.5, "c": 0.6}, {"s": "Spectrum 3", "e": 5.6, "c": 0.9}, {"s": "Spectrum 3", "e": 5.7, "c": 0.5},
      {"s": "Spectrum 3", "e": 5.8, "c": 0.7}, {"s": "Spectrum 3", "e": 6.0, "c": 0.5}, {"s": "Spectrum 3", "e": 6.2, "c": 0.6},
      {"s": "Spectrum 3", "e": 6.4, "c": 0.4}, {"s": "Spectrum 3", "e": 6.6, "c": 0.5}, {"s": "Spectrum 3", "e": 6.8, "c": 0.5},
      {"s": "Spectrum 3", "e": 6.9, "c": 1}, {"s": "Spectrum 3", "e": 6.98, "c": 1}, {"s": "Spectrum 3", "e": 7.05, "c": 0.4},
      {"s": "Spectrum 3", "e": 7.3, "c": 0.3}, {"s": "Spectrum 3", "e": 7.6, "c": 0.3}, {"s": "Spectrum 3", "e": 7.7, "c": 0.5},
      {"s": "Spectrum 3", "e": 7.9, "c": 0.2}, {"s": "Spectrum 3", "e": 8.5, "c": 0.1}, {"s": "Spectrum 3", "e": 9.8, "c": 0}
    ],
    "markers": [
      {"el": "C", "e": 0.247, "c": 18.7},
      {"el": "O", "e": 0.504, "c": 202.1},
      {"el": "Co", "e": 0.753, "c": 50.5},
      {"el": "W", "e": 1.359, "c": 25.7},
      {"el": "Al", "e": 1.466, "c": 283.8},
      {"el": "Sr", "e": 1.566, "c": 265.6},
      {"el": "Sr", "e": 1.791, "c": 114.9},
      {"el": "W", "e": 1.765, "c": 92.9},
      {"el": "W", "e": 2.014, "c": 21.8},
      {"el": "Co", "e": 6.944, "c": 18.1},
      {"el": "Co", "e": 7.635, "c": 16.4},
      {"el": "W", "e": 8.386, "c": 14.8}
    ]
  },
  "layer": [
    {
      "data": {"values": [{}]},
      "mark": {"type": "rect", "color": {
        "gradient": "linear", "x1": 0, "y1": 0, "x2": 0, "y2": 1,
        "stops": [
          {"offset": 0, "color": "#8499b0"},
          {"offset": 0.86, "color": "#7a93ad"},
          {"offset": 0.93, "color": "#6d89a5"},
          {"offset": 1, "color": "#7690ab"}
        ]
      }},
      "encoding": {
        "x": {"datum": 0.0914, "type": "quantitative", "axis": null},
        "x2": {"datum": 9.865},
        "y": {"datum": 302.8, "type": "quantitative", "axis": null},
        "y2": {"datum": -44.1}
      }
    },
    {
      "data": {"values": [{}]},
      "mark": {"type": "rect", "color": "#03507f"},
      "encoding": {
        "x": {"datum": 0.148, "type": "quantitative", "axis": null},
        "x2": {"datum": 9.8},
        "y": {"datum": 0, "type": "quantitative", "axis": null},
        "y2": {"datum": 299}
      }
    },
    {
      "data": {"name": "spectra"},
      "transform": [{"filter": "datum.s === 'Spectrum 1'"}],
      "mark": {"type": "area", "interpolate": "linear"},
      "encoding": {
        "x": {
          "field": "e",
          "type": "quantitative",
          "scale": {"domain": [0.148, 9.8], "nice": false, "zero": false},
          "axis": {
            "orient": "bottom",
            "zindex": 1,
            "grid": false,
            "values": [0.2, 0.3, 0.4, 0.5, 0.6, 0.7, 0.8, 0.9, 1, 1.1, 1.2, 1.3, 1.4, 1.5, 1.6, 1.7, 1.8, 1.9, 2, 2.1, 2.2, 2.3, 2.4, 2.5, 2.6, 2.7, 2.8, 2.9, 3, 3.1, 3.2, 3.3, 3.4, 3.5, 3.6, 3.7, 3.8, 3.9, 4, 4.1, 4.2, 4.3, 4.4, 4.5, 4.6, 4.7, 4.8, 4.9, 5, 5.1, 5.2, 5.3, 5.4, 5.5, 5.6, 5.7, 5.8, 5.9, 6, 6.1, 6.2, 6.3, 6.4, 6.5, 6.6, 6.7, 6.8, 6.9, 7, 7.1, 7.2, 7.3, 7.4, 7.5, 7.6, 7.7, 7.8, 7.9, 8, 8.1, 8.2, 8.3, 8.4, 8.5, 8.6, 8.7, 8.8, 8.9, 9, 9.1, 9.2, 9.3, 9.4, 9.5, 9.6, 9.7, 9.8],
            "labelExpr": "datum.value === round(datum.value) ? format(datum.value, 'd') : ''",
            "labelOverlap": false,
            "labelFlush": false,
            "labelBound": false,
            "labelFont": "Liberation Sans",
            "labelFontSize": 40,
            "labelColor": "#1a1a1a",
            "labelPadding": 18,
            "domainColor": "#000000",
            "domainWidth": 3,
            "tickColor": "#111111",
            "tickWidth": 3,
            "tickSize": {"condition": {"test": "datum.value === round(datum.value)", "value": 19}, "value": 12},
            "title": "keV",
            "titleFont": "Liberation Sans",
            "titleFontSize": 44,
            "titleFontWeight": "normal",
            "titleColor": "#1a1a1a",
            "titleAnchor": "end",
            "titleAlign": "right",
            "titlePadding": 20
          }
        },
        "y": {
          "field": "c",
          "type": "quantitative",
          "stack": null,
          "scale": {"domain": [0, 299], "nice": false, "zero": true},
          "axis": null
        },
        "color": {
          "field": "s",
          "type": "nominal",
          "scale": {
            "domain": ["Spectrum 1", "Spectrum 2", "Spectrum 3"],
            "range": ["#ffff00", "#00ee00", "#ff1010"]
          },
          "legend": {
            "orient": "top-right",
            "offset": 0,
            "title": null,
            "fillColor": "#1b9bd7",
            "padding": 24,
            "rowPadding": 17,
            "symbolType": "circle",
            "symbolSize": 1,
            "symbolOpacity": 0,
            "symbolStrokeWidth": 0,
            "labelOffset": -65,
            "labelFont": "Liberation Sans",
            "labelFontSize": 70,
            "labelLimit": 0,
            "labelExpr": "datum.label + '\u00a0\u00a0'",
            "labelColor": {"expr": "datum.value === 'Spectrum 1' ? '#ffff00' : datum.value === 'Spectrum 2' ? '#5cc43c' : '#ff0000'"}
          }
        }
      }
    },
    {
      "data": {"name": "spectra"},
      "transform": [{"filter": "datum.s === 'Spectrum 3'"}],
      "mark": {"type": "line", "strokeWidth": 3.5, "interpolate": "linear"},
      "encoding": {
        "x": {"field": "e", "type": "quantitative", "axis": null},
        "y": {"field": "c", "type": "quantitative", "axis": null},
        "color": {"field": "s", "type": "nominal", "legend": null}
      }
    },
    {
      "data": {"name": "spectra"},
      "transform": [{"filter": "datum.s === 'Spectrum 2'"}],
      "mark": {"type": "line", "strokeWidth": 4, "interpolate": "linear"},
      "encoding": {
        "x": {"field": "e", "type": "quantitative", "axis": null},
        "y": {"field": "c", "type": "quantitative", "axis": null},
        "color": {"field": "s", "type": "nominal", "legend": null}
      }
    },
    {
      "data": {"values": [{}]},
      "mark": {"type": "rule", "color": "#151515", "strokeWidth": 2.5},
      "encoding": {
        "x": {"datum": 3.347, "type": "quantitative", "axis": null},
        "y": {"datum": 0, "type": "quantitative", "axis": null},
        "y2": {"datum": 299}
      }
    },
    {
      "data": {"name": "markers"},
      "mark": {
        "type": "point",
        "shape": "M-1,0A1,1,0,1,1,1,0A1,1,0,1,1,-1,0ZM0,1L0,1.5",
        "size": 3600,
        "filled": true,
        "opacity": 1,
        "strokeWidth": 3
      },
      "encoding": {
        "x": {"field": "e", "type": "quantitative", "axis": null},
        "y": {"field": "c", "type": "quantitative", "axis": null},
        "fill": {"condition": {"test": "indexof(['O', 'Al', 'Sr'], datum.el) >= 0", "value": "#adbac8"}, "value": "#838b94"},
        "stroke": {"condition": {"test": "indexof(['O', 'Al', 'Sr'], datum.el) >= 0", "value": "#adbac8"}, "value": "#838b94"}
      }
    },
    {
      "data": {"name": "markers"},
      "mark": {"type": "text", "font": "Liberation Sans", "fontSize": 42, "color": "#f2f4f6", "align": "center", "baseline": "middle", "dy": 1},
      "encoding": {
        "x": {"field": "e", "type": "quantitative", "axis": null},
        "y": {"field": "c", "type": "quantitative", "axis": null},
        "text": {"field": "el"}
      }
    },
    {
      "data": {"values": [{"t": "Full Scale 299 cts Cursor: 3.347  (3 cts)"}]},
      "mark": {"type": "text", "font": "Liberation Sans", "fontSize": 44, "color": "#1a1a1a", "align": "left", "baseline": "alphabetic"},
      "encoding": {
        "x": {"datum": 0.155, "type": "quantitative", "axis": null},
        "y": {"datum": -37.3, "type": "quantitative", "axis": null},
        "text": {"field": "t"}
      }
    }
  ],
  "config": {
    "view": {"stroke": null},
    "font": "Liberation Sans"
  }
}
